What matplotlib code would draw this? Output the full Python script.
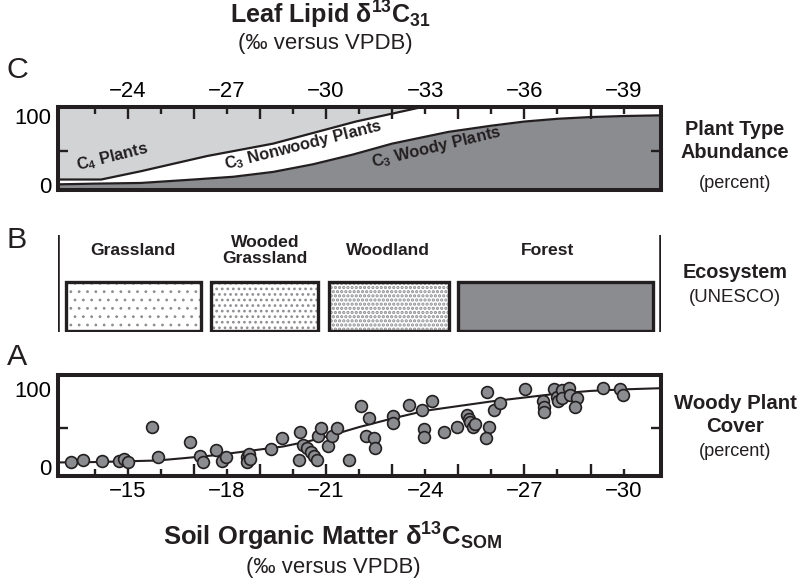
import matplotlib
matplotlib.use('Agg')
import matplotlib.pyplot as plt
import matplotlib.font_manager as fm
from matplotlib.ticker import FixedLocator, FuncFormatter
from matplotlib.patches import Rectangle

names = {f.name for f in fm.fontManager.ttflist}
if 'Liberation Sans Narrow' in names:
    FONT, K = 'Liberation Sans Narrow', 1.0
else:
    FONT, K = 'Liberation Sans', 0.84
plt.rcParams['font.family'] = [FONT, 'DejaVu Sans']
plt.rcParams['mathtext.fontset'] = 'custom'
plt.rcParams['mathtext.rm'] = FONT
plt.rcParams['mathtext.bf'] = FONT + ':bold'
plt.rcParams['mathtext.it'] = FONT + ':italic'
plt.rcParams['hatch.linewidth'] = 1.1

INK = '#231f20'
DARK = '#8b8c8f'
LIGHT = '#d2d3d5'
DOTS = '#8d8e91'

# ---- panel C: plant type abundance vs leaf lipid d13C31
c4_x = [-21.91, -23.2, -24.4, -26.4, -28.4, -30.9, -32.05, -32.9]
c4_y = [8, 8, 20, 42, 60, 92, 104, 113]
woody_x = [-21.91, -23.0, -24.4, -26.0, -27.2, -28.4, -29.6, -30.8, -32.0,
           -33.7, -35.0, -36.0, -37.0, -38.0, -39.0, -40.13]
woody_y = [1, 2, 3, 8, 12, 19, 30, 44, 60, 77, 86, 92, 96, 98.5, 100, 101]

# ---- panel B: ecosystems
eco_names = ['Grassland', 'Wooded\nGrassland', 'Woodland', 'Forest']
eco_hatch = ['..', '...', '....', None]
eco_hatch_lw = [0.8, 1.15, 1.6, 0]

# ---- panel A: woody plant cover vs soil organic matter d13C
som_x = [-13.30, -13.66, -14.24, -14.75, -14.89, -15.02,
         -15.73, -15.93, -16.89, -17.19, -17.27, -17.66, -17.85, -17.97,
         -18.60, -18.67, -18.60, -18.70,
         -19.34, -19.66, -20.21, -20.18, -20.31, -20.42, -20.54, -20.65, -20.72,
         -20.77, -20.84, -21.07, -21.17, -21.33, -21.70,
         -22.05, -22.31, -22.21, -22.45, -22.48,
         -23.02, -23.02, -23.52, -23.90, -24.20, -23.97, -23.97, -24.57, -24.96,
         -25.26, -25.31, -25.36, -25.44, -25.51, -25.87, -25.94, -25.84, -26.07, -26.25,
         -27.02, -27.56, -27.58, -27.58, -27.90, -27.98, -28.03, -28.14, -28.14,
         -28.34, -28.39, -28.59, -28.54, -29.38, -29.88, -29.97]
cover = [6, 8, 7, 7, 10, 6,
         51, 13, 32, 14, 6, 21, 7, 13,
         12, 17, 6, 9.5,
         23, 37, 45, 8, 28, 24, 19, 14, 8,
         40, 50, 27, 39, 50, 8,
         78, 63, 39.5, 37, 24,
         65, 56, 79, 73, 84, 48.5, 38, 45, 51.5,
         66.5, 62, 57, 51.5, 55, 96.5, 51.5, 37, 73, 82,
         99.5, 85, 77, 71, 100, 90, 84, 99, 88,
         101, 92, 89, 77, 101, 100, 92]
fit_x = [-12.91, -14.0, -15.0, -15.9, -16.7, -17.7, -18.7, -19.7, -20.5, -21.2,
         -22.0, -23.0, -24.0, -25.0, -26.0, -27.0, -28.0, -29.0, -30.0, -31.13]
fit_y = [5.5, 6, 7, 8, 11, 15, 20.5, 26, 33, 41,
         51, 62, 72, 78, 84, 89, 94, 97.5, 99.5, 101]

W, H = 811, 578


def box(l, t, r, b):
    return [l / W, 1 - b / H, (r - l) / W, (b - t) / H]


def lab(v, pos):
    n = int(round(v))
    return '\u2212%d' % abs(n) if n % 3 == 0 else ''


def frame(ax, major, minor, top):
    for s in ax.spines.values():
        s.set_linewidth(2.9)
        s.set_color(INK)
    ax.xaxis.set_major_locator(FixedLocator(major))
    ax.xaxis.set_minor_locator(FixedLocator(minor))
    ax.xaxis.set_major_formatter(FuncFormatter(lab))
    ax.xaxis.set_minor_formatter(FuncFormatter(lab))
    ax.tick_params(axis='x', which='both', direction='in', width=1.7, color=INK,
                   top=top, bottom=not top, labeltop=top, labelbottom=not top,
                   labelsize=19 * K, pad=4)
    ax.tick_params(axis='x', which='major', length=8.5)
    ax.tick_params(axis='x', which='minor', length=5)
    ax.set_yticks([0, 100], ['0', '100'])
    ax.yaxis.set_minor_locator(FixedLocator([50]))
    ax.tick_params(axis='y', which='major', length=0, labelsize=19 * K, pad=5)
    ax.tick_params(axis='y', which='minor', direction='in', length=7, width=1.7,
                   left=True, right=True, color=INK)


fig = plt.figure(figsize=(W / 100, H / 100), dpi=100)
axC = fig.add_axes(box(58.5, 107.2, 661, 190))
axB = fig.add_axes(box(58.5, 235, 661, 332.3))
axA = fig.add_axes(box(58.5, 375.3, 661, 475.5))

# panel C
axC.fill_between(woody_x, -50, woody_y, color=DARK, lw=0)
axC.fill_between(c4_x, c4_y, 150, color=LIGHT, lw=0)
axC.plot(woody_x, woody_y, color=INK, lw=1.6)
axC.plot(c4_x, c4_y, color=INK, lw=1.6)
axC.set_xlim(-21.91, -40.13)
axC.set_ylim(-7.2, 112.8)
frame(axC, list(range(-24, -39, -2)), list(range(-23, -40, -2)), True)
tk = dict(fontsize=14 * K, fontweight='bold', color=INK, ha='center', va='center',
          rotation_mode='anchor')
axC.text(-23.53, 40, r'C$_{\mathbf{4}}$ Plants', rotation=14, **tk)
axC.text(-29.3, 58, r'C$_{\mathbf{3}}$ Nonwoody Plants', rotation=14, **tk)
axC.text(-33.33, 55, r'C$_{\mathbf{3}}$ Woody Plants', rotation=13.5, **tk)

# panel B
axB.set_xlim(0, 1)
axB.set_ylim(0, 1)
axB.axis('off')
axB.axvline(0, color=INK, lw=2.6)
axB.axvline(1, color=INK, lw=2.6)
eco_left = [0.0124, 0.2526, 0.449, 0.6637]
eco_right = [0.2365, 0.431, 0.6486, 0.9873]
eco_lx = [0.123, 0.343, 0.547, 0.812]
for name, h, hlw, l, r, lx in zip(eco_names, eco_hatch, eco_hatch_lw,
                                  eco_left, eco_right, eco_lx):
    if h is None:
        axB.add_patch(Rectangle((l, 0.016), r - l, 0.506, facecolor=DARK,
                                edgecolor='none'))
    else:
        with plt.rc_context({'hatch.linewidth': hlw}):
            p = Rectangle((l, 0.016), r - l, 0.506, facecolor='white',
                          edgecolor=DOTS, lw=0, hatch=h)
        if hasattr(p, 'set_hatch_linewidth'):
            p.set_hatch_linewidth(hlw)
        axB.add_patch(p)
    axB.add_patch(Rectangle((l, 0.016), r - l, 0.506, facecolor='none',
                            edgecolor=INK, lw=2.4))
    axB.text(lx, 0.84, name, fontsize=15 * K, fontweight='bold', color=INK,
             ha='center', va='center', linespacing=1.15)

# panel A
axA.plot(fit_x, fit_y, color=INK, lw=1.5, zorder=2)
axA.scatter(som_x, cover, s=72, facecolor=DARK, edgecolor=INK, linewidths=1.2,
            zorder=3)
axA.set_xlim(-12.91, -31.13)
axA.set_ylim(-11.3, 117.6)
frame(axA, list(range(-15, -30, -2)), list(range(-14, -31, -2)), False)


def ftext(x, y, s, **kw):
    fig.text(x / W, 1 - y / H, s, ha='center', va='center', color=INK, **kw)


ftext(330, 15, r'Leaf Lipid δ$^{\mathbf{13}}$C$_{\mathbf{31}}$', fontsize=21.5 * K,
      fontweight='bold')
ftext(325, 43, '(‰ versus VPDB)', fontsize=19 * K)
ftext(333, 537, r'Soil Organic Matter δ$^{\mathbf{13}}$C$_{\mathbf{SOM}}$',
      fontsize=22 * K, fontweight='bold')
ftext(333, 567, '(‰ versus VPDB)', fontsize=19 * K)

ftext(17, 70, 'C', fontsize=26 * K)
ftext(17, 240, 'B', fontsize=26 * K)
ftext(17, 357, 'A', fontsize=26 * K)

ftext(735, 141, 'Plant Type\nAbundance', fontsize=17 * K, fontweight='bold',
      linespacing=1.25)
ftext(735, 183, '(percent)', fontsize=15.5 * K)
ftext(735, 272, 'Ecosystem', fontsize=17 * K, fontweight='bold')
ftext(735, 298, '(UNESCO)', fontsize=16 * K)
ftext(735, 415, 'Woody Plant\nCover', fontsize=17.5 * K, fontweight='bold',
      linespacing=1.25)
ftext(735, 452, '(percent)', fontsize=15.5 * K)

fig.savefig('out.png', dpi=100)
